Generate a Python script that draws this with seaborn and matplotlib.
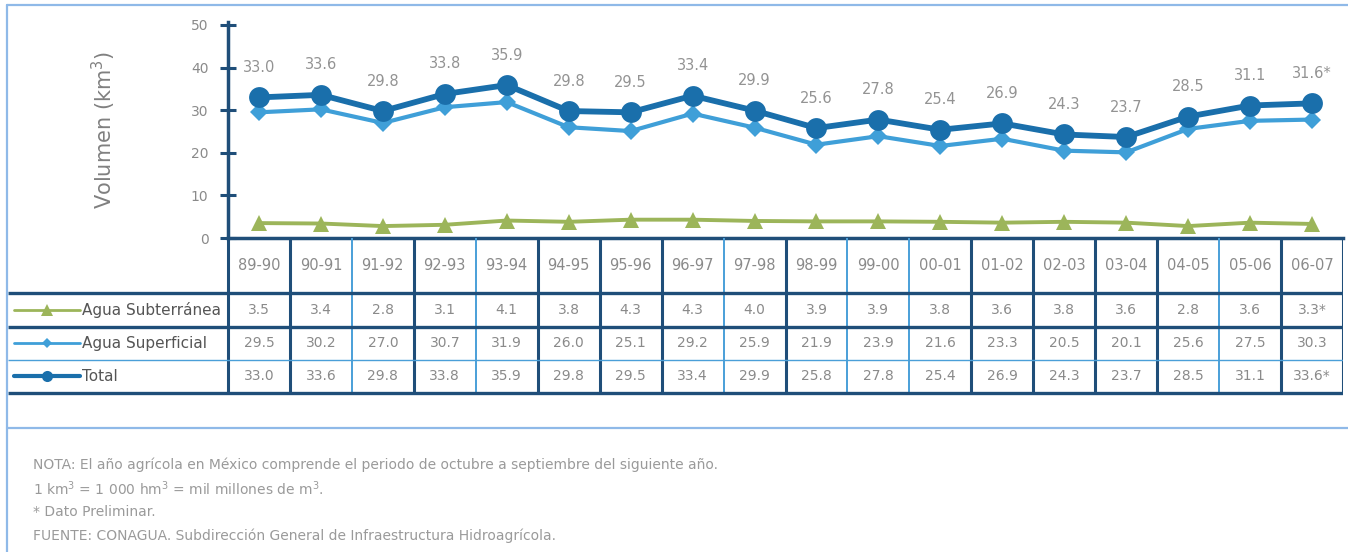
import matplotlib
matplotlib.use('Agg')
import matplotlib.pyplot as plt
import numpy as np
import pandas as pd
import seaborn as sns
from matplotlib.lines import Line2D

sns.set_style('white')
plt.rcParams['font.family'] = ['DejaVu Sans']

# --- data --- #
years = ['89-90', '90-91', '91-92', '92-93', '93-94', '94-95', '95-96', '96-97', '97-98',
         '98-99', '99-00', '00-01', '01-02', '02-03', '03-04', '04-05', '05-06', '06-07']
subterranea = [3.5, 3.4, 2.8, 3.1, 4.1, 3.8, 4.3, 4.3, 4.0, 3.9, 3.9, 3.8, 3.6, 3.8, 3.6, 2.8, 3.6, 3.3]
superficial = [29.5, 30.2, 27.0, 30.7, 31.9, 26.0, 25.1, 29.2, 25.9, 21.9, 23.9, 21.6, 23.3, 20.5,
               20.1, 25.6, 27.5, 30.3]
total = [33.0, 33.6, 29.8, 33.8, 35.9, 29.8, 29.5, 33.4, 29.9, 25.8, 27.8, 25.4, 26.9, 24.3, 23.7,
         28.5, 31.1, 33.6]
# the drawn lines differ from the table in the last (preliminary) year
superficial_line = [29.5, 30.2, 27.0, 30.7, 31.9, 26.0, 25.1, 29.2, 25.9, 21.9, 23.9, 21.6, 23.3, 20.5,
                    20.1, 25.6, 27.5, 27.8]
total_line = [33.0, 33.6, 29.8, 33.8, 35.9, 29.8, 29.5, 33.4, 29.9, 25.8, 27.8, 25.4, 26.9, 24.3, 23.7,
              28.5, 31.1, 31.6]
total_labels = ['33.0', '33.6', '29.8', '33.8', '35.9', '29.8', '29.5', '33.4', '29.9', '25.6', '27.8',
                '25.4', '26.9', '24.3', '23.7', '28.5', '31.1', '31.6*']
series_names = ['Agua Subterránea', 'Agua Superficial', 'Total']
notes = ['NOTA: El año agrícola en México comprende el periodo de octubre a septiembre del siguiente año.',
         '1 km$^3$ = 1 000 hm$^3$ = mil millones de m$^3$.',
         '* Dato Preliminar.',
         'FUENTE: CONAGUA. Subdirección General de Infraestructura Hidroagrícola.']

c_total = '#1a6fab'
c_sup = '#3f9fd8'
c_sub = '#9cb55a'
c_dark = '#1f4e79'
c_light = '#4a9fd8'
c_frame = '#8fb9e8'
c_text = '#8a8a8a'

W, H = 1348, 552
fig = plt.figure(figsize=(W / 100, H / 100), dpi=100)


def fx(px):
    return px / W


def fy(py):
    return 1 - py / H


# --- chart area --- #
x_left, x_right, y_top, y_bot = 228, 1343, 22, 238
ax = fig.add_axes([fx(x_left), fy(y_bot), fx(x_right - x_left), (y_bot - y_top) / H])
xs = np.arange(len(years))

sns.lineplot(x=xs, y=subterranea, ax=ax, color=c_sub, lw=2.8, marker='^', markersize=11,
             markeredgewidth=0)
sns.lineplot(x=xs, y=superficial_line, ax=ax, color=c_sup, lw=3, marker='D', markersize=9,
             markeredgewidth=0)
sns.lineplot(x=xs, y=total_line, ax=ax, color=c_total, lw=4.2, marker='o', markersize=15,
             markeredgewidth=0)

for i, (v, lbl) in enumerate(zip(total_line, total_labels)):
    ax.annotate(lbl, (i, v), xytext=(0, 30), textcoords='offset pixels', ha='center', va='center',
                fontsize=10.5, color='#939393')

ax.set_xlim(-0.5, len(years) - 0.5)
ax.set_ylim(0, 50.7)
ax.set_yticks(range(0, 51, 10))
ax.set_xticks([])
ax.tick_params(axis='y', left=True, direction='inout', length=12, width=2.2, color=c_dark,
               labelsize=10, labelcolor=c_text, pad=8)
for s in ['top', 'right']:
    ax.spines[s].set_visible(False)
for s in ['left', 'bottom']:
    ax.spines[s].set_color(c_dark)
    ax.spines[s].set_linewidth(2.5)
ax.set_ylabel('Volumen (km$^3$)', fontsize=15, color='#808080')
ax.yaxis.set_label_coords((118 - x_left) / (x_right - x_left), 0.5)
ax.patch.set_alpha(0)

# --- data table --- #
tab = fig.add_axes([fx(8), fy(396), fx(x_right - 8), (396 - y_bot) / H])
tab.set_xlim(8, x_right)
tab.set_ylim(396, y_bot)
tab.axis('off')
cw = (x_right - x_left) / len(years)
row_edges = [293, 327, 360, 393]
row_mid = [(a + b) / 2 for a, b in zip(row_edges[:-1], row_edges[1:])]
dark_cols = [1, 1, 0, 1, 0, 1, 1, 1, 0, 1, 0, 0, 1, 1, 1, 1, 0, 1, 1]

for k, dk in enumerate(dark_cols):
    xb = x_left + k * cw
    tab.plot([xb, xb], [y_bot, 393], color=c_dark if dk else c_light, lw=2.2 if dk else 1.4,
             solid_capstyle='butt')
for r, yb in enumerate(row_edges):
    dk = r != 2
    tab.plot([8, x_right], [yb, yb], color=c_dark if dk else c_light, lw=2.4 if dk else 1.0,
             solid_capstyle='butt')

rows = [
    [f'{v:.1f}' for v in subterranea[:-1]] + [f'{subterranea[-1]:.1f}*'],
    [f'{v:.1f}' for v in superficial],
    [f'{v:.1f}' for v in total[:-1]] + [f'{total[-1]:.1f}*'],
]
for i, yr in enumerate(years):
    xc = x_left + (i + 0.5) * cw
    tab.text(xc, (y_bot + 293) / 2, yr, ha='center', va='center', fontsize=10.5, color=c_text)
    for r, cells in enumerate(rows):
        tab.text(xc, row_mid[r], cells[i], ha='center', va='center', fontsize=10, color=c_text)

legend_styles = [(c_sub, '^', 8, 2), (c_sup, 'D', 5, 2), (c_total, 'o', 8, 3)]
for r, (name, (col, mk, ms, lw)) in enumerate(zip(series_names, legend_styles)):
    tab.plot([14, 80], [row_mid[r], row_mid[r]], color=col, lw=lw)
    tab.plot([47], [row_mid[r]], color=col, marker=mk, markersize=ms, markeredgewidth=0)
    tab.text(82, row_mid[r], name, ha='left', va='center', fontsize=11, color='#555555',
             family=['Liberation Sans Narrow', 'DejaVu Sans'])

# --- frame lines and notes --- #
for (x0, y0, x1, y1) in [(7, 5, W, 5), (7, 5, 7, H), (7, 428, W, 428)]:
    fig.add_artist(Line2D([fx(x0), fx(x1)], [fy(y0), fy(y1)], color=c_frame, lw=1.6))

for j, note in enumerate(notes):
    fig.text(fx(33), fy(465 + j * 23.5), note, ha='left', va='center', fontsize=10,
             color='#9a9a9a')

fig.savefig('out.png', dpi=100)
